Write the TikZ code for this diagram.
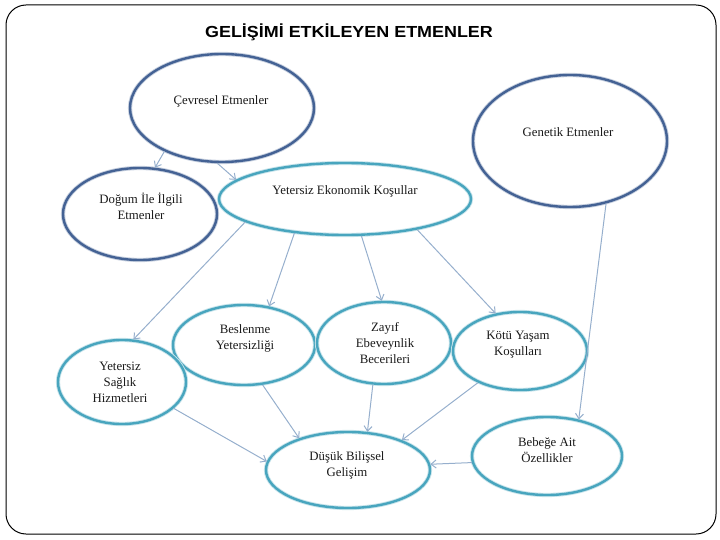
\documentclass[tikz,border=0pt]{standalone}
\usepackage{fontspec}
\usepackage{graphicx}
\setmainfont{Liberation Serif}
\newfontfamily\titlefont{Liberation Sans}
\usetikzlibrary{shapes.geometric,arrows.meta}
\definecolor{darkring}{RGB}{68,98,148}
\definecolor{tealring}{RGB}{72,165,190}
\definecolor{arrowc}{RGB}{150,175,205}
\definecolor{txtc}{RGB}{25,25,25}
\begin{document}
\begin{tikzpicture}[x=1pt,y=-1pt,
  oval/.style={ellipse, inner sep=0pt, line width=2.4pt},
  darkoval/.style={oval, draw=darkring, preaction={draw=darkring!30, line width=4.2pt}},
  tealoval/.style={oval, draw=tealring, preaction={draw=tealring!30, line width=4.2pt}},
  lbl/.style={font=\fontsize{12.8}{16}\selectfont, text=txtc, align=center, inner sep=0pt},
  link/.style={draw=arrowc, line width=1pt, -{Straight Barb[length=5pt,width=8pt]}},
  frame/.style={draw=black, line width=1pt, rounded corners=20pt},
]
\useasboundingbox (0,0) rectangle (720,540);
\node[frame, minimum width=710pt, minimum height=529pt, inner sep=0pt] (frm) at (361,269.5) {};

\node[font=\titlefont\bfseries\fontsize{16}{18}\selectfont, inner sep=0pt] (title) at (349,32)
  {\scalebox{1.12}[1]{GELİŞİMİ ETKİLEYEN ETMENLER}};

% ellipses
\node[darkoval, minimum width=184pt, minimum height=108pt] (cev) at (222,108) {};
\node[darkoval, minimum width=194pt, minimum height=132pt] (gen) at (570,141) {};
\node[darkoval, minimum width=154pt, minimum height=92pt]  (dog) at (140,214) {};
\node[tealoval, minimum width=252pt, minimum height=72pt]  (yek) at (345,199) {};
\node[tealoval, minimum width=142pt, minimum height=80pt]  (bes) at (244,345) {};
\node[tealoval, minimum width=134pt, minimum height=82pt]  (zay) at (384,343) {};
\node[tealoval, minimum width=134pt, minimum height=78pt]  (kot) at (520,351) {};
\node[tealoval, minimum width=128pt, minimum height=84pt]  (sag) at (122,382) {};
\node[tealoval, minimum width=164pt, minimum height=76pt]  (dus) at (348,470) {};
\node[tealoval, minimum width=150pt, minimum height=78pt]  (beb) at (547,456) {};

% texts
\node[lbl] (cevT) at (221,101) {Çevresel Etmenler};
\node[lbl] (genT) at (568,132) {Genetik Etmenler};
\node[lbl] (dogT) at (141,206) {Doğum İle İlgili\\Etmenler};
\node[lbl] (yekT) at (345,191) {Yetersiz Ekonomik Koşullar};
\node[lbl] (besT) at (245,338) {Beslenme\\Yetersizliği};
\node[lbl] (zayT) at (385,343) {Zayıf\\Ebeveynlik\\Becerileri};
\node[lbl] (kotT) at (518,345) {Kötü Yaşam\\Koşulları};
\node[lbl] (sagT) at (120,382) {Yetersiz\\Sağlık\\Hizmetleri};
\node[lbl] (dusT) at (347,465) {Düşük Bilişsel\\Gelişim};
\node[lbl] (bebT) at (547,450) {Bebeğe Ait\\Özellikler};

% connectors
\draw[link] (cev.217) -- (dog.72);
\draw[link] (cev.265) -- (yek.170);
\draw[link] (yek.193) -- (sag.75);
\draw[link] (yek.214) -- (bes.57);
\draw[link] (yek.294) -- (zay.93);
\draw[link] (yek.337) -- (kot.123);
\draw[link] (gen.300) -- (beb.49);
\draw[link] (bes.295) -- (dus.147);
\draw[link] (zay.255) -- (dus.63);
\draw[link] (kot.217) -- (dus.29);
\draw[link] (sag.333) -- (dus.174);
\draw[link] (beb.185) -- (dus.4);
\end{tikzpicture}
\end{document}
